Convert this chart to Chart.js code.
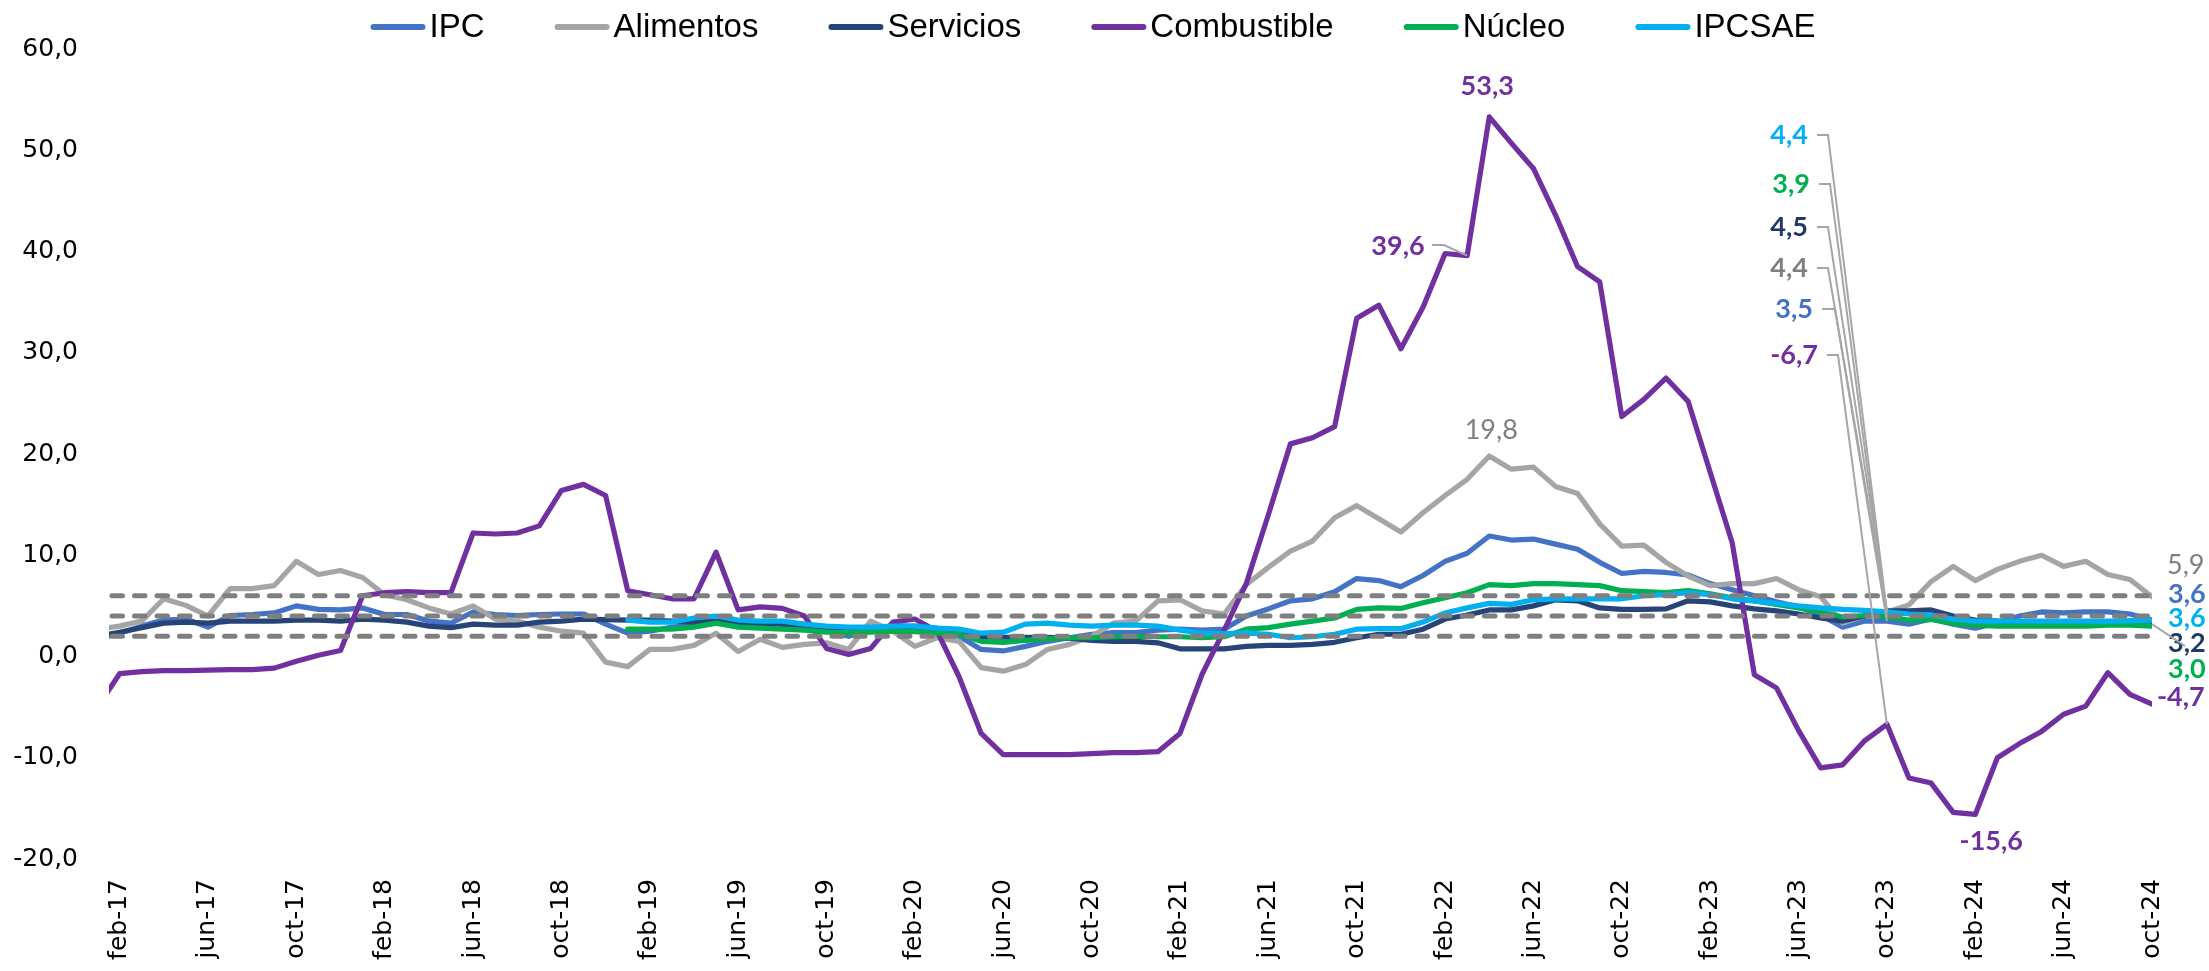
<!DOCTYPE html>
<html>
<head>
<meta charset="utf-8">
<script src="https://cdn.jsdelivr.net/npm/chart.js@4.4.1/dist/chart.umd.min.js"></script>
<style>
  html, body { margin: 0; padding: 0; background: #fff; }
  canvas { display: block; }
</style>
</head>
<body>
<canvas id="inflacion" width="2209" height="971"></canvas>
<script>
// meses ene-17 .. oct-24 (ene-17 only feeds the clipped first segment)
const nombresMes = ["ene", "feb", "mar", "abr", "may", "jun", "jul", "ago", "sep", "oct", "nov", "dic"];
const meses = [];
for (let a = 17; a <= 24; a++) {
  for (let m = 0; m < 12; m++) {
    if (a === 24 && m > 9) break;
    meses.push(nombresMes[m] + "-" + a);
  }
}
// x ticks: feb-17, jun-17, oct-17 ... oct-24
const ticksX = [1, 5, 9, 13, 17, 21, 25, 29, 33, 37, 41, 45, 49, 53, 57, 61, 65, 69, 73, 77, 81, 85, 89, 93];
const ticksY = [-20, -10, 0, 10, 20, 30, 40, 50, 60];
const bandaMeta = [2, 4, 6];

const ipc = [1.7,
  2.3, 3.0, 3.6, 3.7, 2.9, 4.05, 4.15, 4.3, 5.0, 4.65,
  4.6, 4.8, 4.15, 4.15, 3.5, 3.3, 4.4, 4.15, 4.05, 4.15,
  4.2, 4.2, 3.2, 2.3, 2.5, 2.9, 3.1, 3.3, 3.3, 3.2,
  3.2, 3.0, 2.6, 2.0, 2.6, 3.0, 3.0, 2.8, 2.0, 0.7,
  0.55, 1.0, 1.5, 1.85, 2.2, 2.35, 2.35, 2.6, 2.7, 2.6,
  2.7, 4.0, 4.7, 5.5, 5.7, 6.4, 7.7, 7.5, 6.9, 8.0,
  9.4, 10.2, 11.9, 11.5, 11.6, 11.1, 10.6, 9.3, 8.2, 8.4,
  8.3, 8.05, 7.2, 6.6, 6.0, 5.4, 4.9, 4.1, 2.9, 3.5,
  3.5, 3.2, 3.7, 3.2, 2.8, 3.3, 4.0, 4.4, 4.3, 4.4,
  4.4, 4.2, 3.6];
const alimentos = [2.7,
  3.0, 3.5, 5.7, 5.05, 4.0, 6.7, 6.7, 7.0, 9.4, 8.1,
  8.5, 7.8, 6.1, 5.6, 4.8, 4.2, 5.0, 3.7, 3.5, 2.9,
  2.5, 2.3, -0.56, -1.0, 0.7, 0.7, 1.1, 2.3, 0.5, 1.7,
  0.9, 1.2, 1.35, 0.7, 3.5, 2.5, 1.0, 1.85, 1.5, -1.1,
  -1.45, -0.8, 0.7, 1.2, 2.0, 3.3, 3.5, 5.5, 5.6, 4.5,
  4.2, 7.1, 8.8, 10.4, 11.4, 13.7, 14.9, 13.6, 12.3, 14.2,
  15.9, 17.5, 19.8, 18.5, 18.7, 16.8, 16.1, 13.1, 10.9, 11.0,
  9.3, 7.95, 7.0, 7.2, 7.2, 7.7, 6.6, 5.9, 3.3, 4.0,
  4.4, 5.1, 7.4, 8.9, 7.5, 8.6, 9.4, 10.0, 8.9, 9.4,
  8.1, 7.6, 5.9];
const servicios = [2.0,
  2.4, 2.85, 3.3, 3.4, 3.3, 3.5, 3.5, 3.5, 3.6, 3.6,
  3.5, 3.7, 3.6, 3.4, 3.0, 2.85, 3.2, 3.1, 3.1, 3.4,
  3.5, 3.7, 3.65, 3.6, 3.6, 3.5, 3.4, 3.5, 3.4, 3.3,
  3.2, 3.1, 2.9, 2.8, 2.8, 2.7, 2.7, 2.6, 2.4, 1.9,
  1.9, 1.9, 1.9, 1.8, 1.6, 1.5, 1.5, 1.35, 0.76, 0.76,
  0.76, 1.0, 1.1, 1.1, 1.2, 1.4, 1.85, 2.2, 2.2, 2.7,
  3.7, 4.1, 4.6, 4.6, 5.0, 5.6, 5.5, 4.8, 4.65, 4.65,
  4.7, 5.5, 5.4, 5.0, 4.7, 4.5, 4.2, 3.8, 3.5, 4.0,
  4.5, 4.5, 4.6, 4.0, 3.6, 3.5, 3.4, 3.4, 3.4, 3.3,
  3.3, 3.3, 3.2];
const combustible = [-5.0,
  -1.7, -1.5, -1.4, -1.4, -1.35, -1.3, -1.3, -1.15, -0.46, 0.13,
  0.6, 6.0, 6.3, 6.4, 6.3, 6.3, 12.2, 12.1, 12.2, 12.9,
  16.4, 17.0, 15.9, 6.5, 6.1, 5.7, 5.7, 10.3, 4.6, 4.9,
  4.75, 4.0, 0.8, 0.2, 0.8, 3.4, 3.7, 2.5, -2.0, -7.6,
  -9.7, -9.7, -9.7, -9.7, -9.6, -9.5, -9.5, -9.4, -7.6, -1.75,
  2.6, 7.2, 14.0, 21.0, 21.6, 22.7, 33.4, 34.7, 30.4, 34.5,
  39.8, 39.6, 53.3, 50.7, 48.2, 43.6, 38.5, 37.0, 23.7, 25.4,
  27.5, 25.2, 18.2, 11.2, -1.8, -3.1, -7.3, -11.0, -10.7, -8.3,
  -6.7, -12.0, -12.5, -15.4, -15.6, -10.0, -8.6, -7.4, -5.7, -4.9,
  -1.6, -3.75, -4.7];
const nucleo = [null,
  null, null, null, null, null, null, null, null, null, null,
  null, null, null, null, null, null, null, null, null, null,
  null, null, null, 2.7, 2.7, 2.7, 2.9, 3.3, 2.9, 2.8,
  2.7, 2.6, 2.4, 2.3, 2.4, 2.5, 2.45, 2.3, 2.2, 1.5,
  1.4, 1.6, 1.75, 1.85, 1.85, 1.95, 2.0, 1.95, 1.95, 1.85,
  1.95, 2.7, 2.85, 3.2, 3.5, 3.8, 4.65, 4.8, 4.75, 5.3,
  5.8, 6.3, 7.1, 7.0, 7.2, 7.2, 7.1, 7.0, 6.5, 6.4,
  6.3, 6.5, 6.2, 5.8, 5.5, 5.15, 4.8, 4.4, 3.9, 4.05,
  3.9, 3.6, 3.65, 3.3, 3.1, 3.0, 3.0, 3.0, 3.0, 3.0,
  3.1, 3.1, 3.0];
const ipcsae = [null,
  null, null, null, null, null, null, null, null, null, null,
  null, null, null, null, null, null, null, null, null, null,
  null, null, null, 3.6, 3.4, 3.4, 3.8, 4.0, 3.6, 3.5,
  3.5, 3.2, 3.0, 2.9, 2.9, 3.0, 3.0, 2.8, 2.7, 2.3,
  2.4, 3.2, 3.3, 3.1, 3.0, 3.1, 3.1, 3.0, 2.6, 2.3,
  2.25, 2.3, 2.2, 1.85, 1.95, 2.2, 2.7, 2.75, 2.75, 3.4,
  4.3, 4.8, 5.25, 5.15, 5.6, 5.7, 5.7, 5.7, 5.7, 6.0,
  6.1, 6.3, 6.1, 5.7, 5.5, 5.25, 5.0, 4.8, 4.65, 4.55,
  4.4, 4.2, 4.1, 3.7, 3.5, 3.5, 3.5, 3.5, 3.5, 3.5,
  3.5, 3.55, 3.6];

const series = [
  { nombre: "IPC", datos: ipc, color: "#4472C4", texto: "#4472C4" },
  { nombre: "Alimentos", datos: alimentos, color: "#A5A5A5", texto: "#7F7F7F" },
  { nombre: "Servicios", datos: servicios, color: "#264478", texto: "#203864" },
  { nombre: "Combustible", datos: combustible, color: "#7030A0", texto: "#7030A0" },
  { nombre: "Núcleo", datos: nucleo, color: "#00B050", texto: "#00B050" },
  { nombre: "IPCSAE", datos: ipcsae, color: "#00B0F0", texto: "#00B0F0" }
];
const porNombre = {};
series.forEach(s => porNombre[s.nombre] = s);

const iOct23 = meses.indexOf("oct-23");
const iOct24 = meses.indexOf("oct-24");

const fmt = v => v.toFixed(1).replace(".", ",");
const fuenteEtiqueta = "'Lato', 'Open Sans', sans-serif";

// labels stacked above oct-23, each with a leader line down to its point
const notasOct23 = [
  { serie: "IPCSAE", derecha: 1808, y: 135, quiebre: [1817, 1828], peso: "bold" },
  { serie: "Núcleo", derecha: 1810, y: 184, quiebre: [1819, 1830], peso: "bold" },
  { serie: "Servicios", derecha: 1808, y: 227, quiebre: [1817, 1828], peso: "bold" },
  { serie: "Alimentos", derecha: 1808, y: 268, quiebre: [1817, 1828], peso: "bold" },
  { serie: "IPC", derecha: 1813, y: 309, quiebre: [1822, 1835], peso: "bold" },
  { serie: "Combustible", derecha: 1818, y: 355, quiebre: [1827, 1838], peso: "bold" }
];
// last values, to the right of oct-24
const notasFinal = [
  { serie: "Alimentos", x: 2167, y: 565, peso: "normal" },
  { serie: "IPC", x: 2168, y: 594, peso: "bold" },
  { serie: "IPCSAE", x: 2168, y: 618, peso: "bold" },
  { serie: "Servicios", x: 2168, y: 643, peso: "bold", guia: [2185, 646] },
  { serie: "Núcleo", x: 2168, y: 669, peso: "bold" },
  { serie: "Combustible", x: 2157, y: 697, peso: "bold" }
];
// peaks and troughs
const notasPico = [
  { serie: "Combustible", mes: "abr-22", dx: -2, dy: -31, peso: "bold" },
  { serie: "Alimentos", mes: "abr-22", dx: 2, dy: -26, peso: "normal" },
  { serie: "Combustible", mes: "feb-24", dx: 16, dy: 27, peso: "bold" }
];

const anotaciones = {
  id: "anotaciones",
  afterDatasetsDraw(chart) {
    const { ctx, chartArea, scales: { x, y } } = chart;
    ctx.save();
    // dashed reference band
    ctx.strokeStyle = "#7F7F7F";
    ctx.lineWidth = 5;
    ctx.lineCap = "round";
    ctx.setLineDash([10.5, 12]);
    for (const v of bandaMeta) {
      const py = y.getPixelForValue(v);
      ctx.beginPath();
      ctx.moveTo(chartArea.left + 3, py);
      ctx.lineTo(chartArea.right, py);
      ctx.stroke();
    }
    ctx.setLineDash([]);

    ctx.strokeStyle = "#A6A6A6";
    ctx.lineWidth = 2;
    ctx.lineCap = "butt";
    ctx.textBaseline = "middle";

    // oct-23 callouts
    const px23 = x.getPixelForValue(iOct23);
    for (const n of notasOct23) {
      const s = porNombre[n.serie];
      const v = s.datos[iOct23];
      ctx.beginPath();
      ctx.moveTo(n.quiebre[0], n.y);
      ctx.lineTo(n.quiebre[1], n.y);
      ctx.lineTo(px23, y.getPixelForValue(v));
      ctx.stroke();
      ctx.font = n.peso + " 27px " + fuenteEtiqueta;
      ctx.fillStyle = s.texto;
      ctx.textAlign = "right";
      ctx.fillText(fmt(v), n.derecha, n.y);
    }

    // "39,6" with its short leader
    {
      const s = porNombre["Combustible"];
      const i = meses.indexOf("mar-22");
      const v = s.datos[i];
      ctx.beginPath();
      ctx.moveTo(1432, 245);
      ctx.lineTo(1444, 245);
      ctx.lineTo(x.getPixelForValue(i), y.getPixelForValue(v));
      ctx.stroke();
      ctx.font = "bold 27px " + fuenteEtiqueta;
      ctx.fillStyle = s.texto;
      ctx.textAlign = "center";
      ctx.fillText(fmt(v), 1398, 246);
    }

    // end values
    const px24 = x.getPixelForValue(iOct24);
    for (const n of notasFinal) {
      const s = porNombre[n.serie];
      const v = s.datos[iOct24];
      ctx.font = n.peso + " 27px " + fuenteEtiqueta;
      ctx.fillStyle = s.texto;
      ctx.textAlign = "left";
      ctx.fillText(fmt(v), n.x, n.y);
      if (n.guia) {
        ctx.beginPath();
        ctx.moveTo(px24, y.getPixelForValue(v));
        ctx.lineTo(n.guia[0], n.guia[1]);
        ctx.stroke();
      }
    }

    // peaks
    for (const n of notasPico) {
      const s = porNombre[n.serie];
      const i = meses.indexOf(n.mes);
      const v = s.datos[i];
      ctx.font = n.peso + " 27px " + fuenteEtiqueta;
      ctx.fillStyle = s.texto;
      ctx.textAlign = "center";
      ctx.fillText(fmt(v), x.getPixelForValue(i) + n.dx, y.getPixelForValue(v) + n.dy);
    }
    ctx.restore();
  },
  afterDraw(chart) {
    // legend: short thick line + name, centred over the plot
    const ctx = chart.ctx;
    ctx.save();
    ctx.font = "33px 'Liberation Sans Narrow', 'Arial Narrow', sans-serif";
    ctx.textBaseline = "middle";
    ctx.textAlign = "left";
    const muestra = 55, hueco = 4, separacion = 70, yLeyenda = 27;
    const anchos = series.map(s => ctx.measureText(s.nombre).width);
    let total = 0;
    anchos.forEach((w, i) => total += muestra + hueco + w + (i ? separacion : 0));
    let xx = 1093 - total / 2;
    series.forEach((s, i) => {
      ctx.strokeStyle = s.color;
      ctx.lineWidth = 6;
      ctx.lineCap = "round";
      ctx.beginPath();
      ctx.moveTo(xx + 3, yLeyenda);
      ctx.lineTo(xx + muestra - 3, yLeyenda);
      ctx.stroke();
      ctx.fillStyle = "#000";
      ctx.fillText(s.nombre, xx + muestra + hueco, yLeyenda + 1);
      xx += muestra + hueco + anchos[i] + separacion;
    });
    ctx.restore();
  }
};

const ctx = document.getElementById("inflacion");
const chart = new Chart(ctx, {
  type: "line",
  data: {
    datasets: series.map((s, i) => ({
      label: s.nombre,
      data: s.datos.map((v, j) => ({ x: j, y: v })),
      borderColor: s.color,
      backgroundColor: s.color,
      borderWidth: 5.2,
      borderJoinStyle: "round",
      borderCapStyle: "round",
      pointRadius: 0,
      tension: 0,
      order: series.length - i
    }))
  },
  options: {
    responsive: false,
    animation: false,
    devicePixelRatio: 1,
    layout: { padding: { top: 49, right: 57, left: 0, bottom: 0 } },
    plugins: {
      legend: { display: false },
      tooltip: { enabled: false }
    },
    scales: {
      x: {
        type: "linear",
        min: 0.52,
        max: 93,
        grid: { display: false, drawTicks: false },
        border: { display: false },
        afterBuildTicks: (scale) => {
          scale.ticks = ticksX.map(v => ({ value: v }));
        },
        afterFit: (scale) => { scale.height = 112; },
        ticks: {
          autoSkip: false,
          minRotation: 90,
          maxRotation: 90,
          padding: 20,
          color: "#000",
          font: { family: "'DejaVu Sans', sans-serif", size: 25 },
          callback: (v) => meses[v]
        }
      },
      y: {
        min: -20,
        max: 60,
        grid: { display: false, drawTicks: false },
        border: { display: false },
        afterBuildTicks: (scale) => {
          scale.ticks = ticksY.map(v => ({ value: v }));
        },
        afterFit: (scale) => { scale.width = 109; },
        ticks: {
          padding: 31,
          color: "#000",
          font: { family: "'DejaVu Sans', sans-serif", size: 25 },
          callback: (v) => fmt(v)
        }
      }
    }
  },
  plugins: [anotaciones]
});
</script>
</body>
</html>
